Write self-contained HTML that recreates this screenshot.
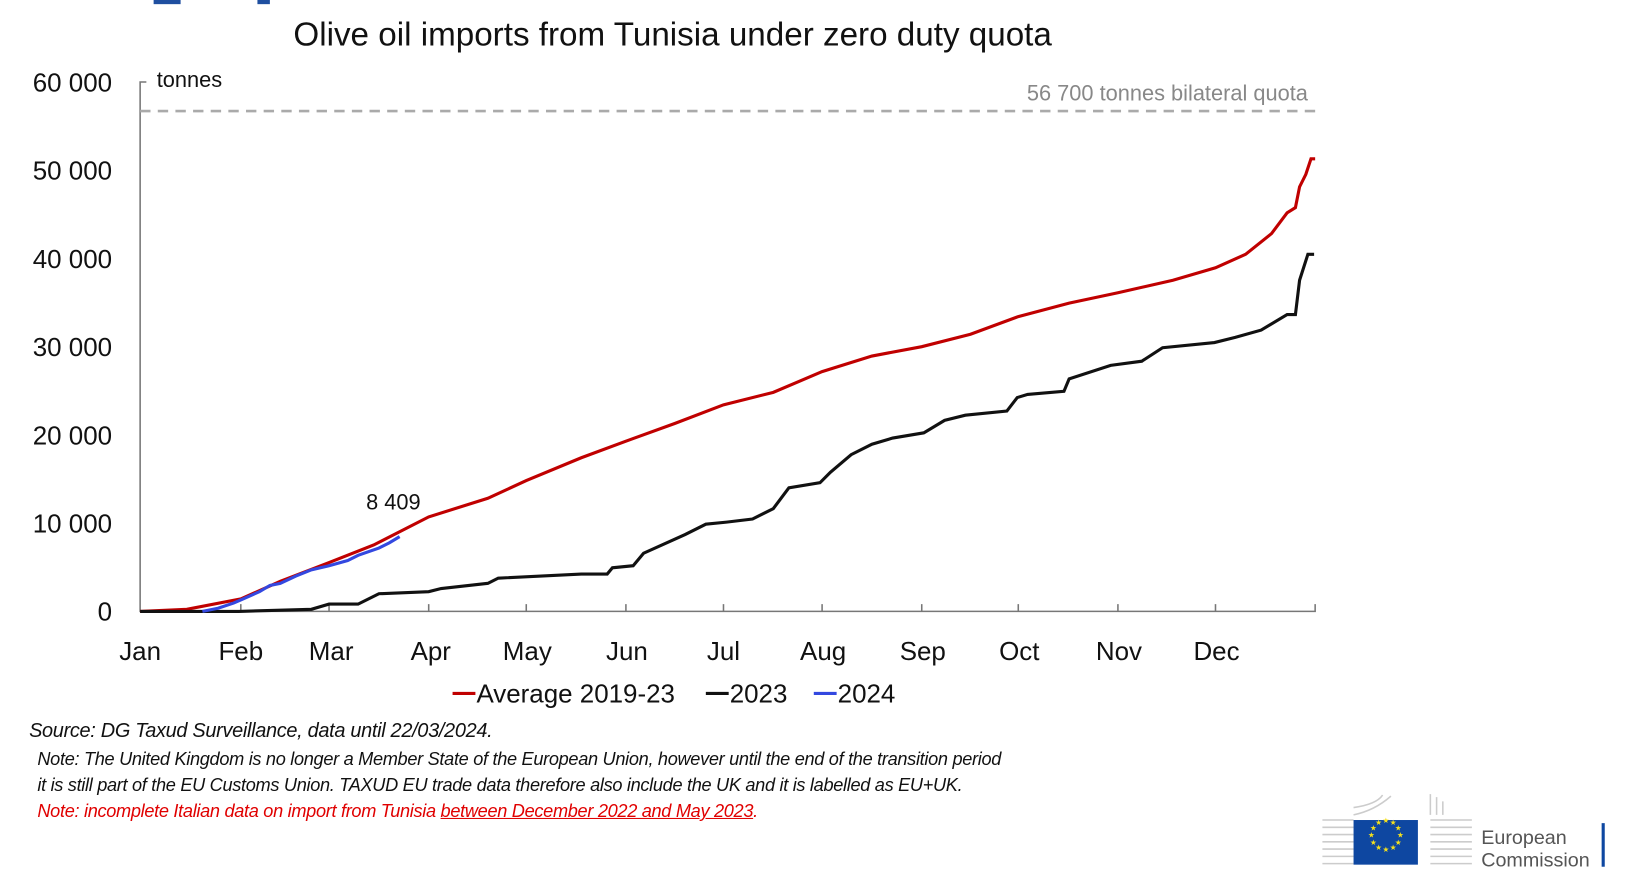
<!DOCTYPE html>
<html><head><meta charset="utf-8"><style>
body{margin:0;background:#fff;width:1628px;height:884px;overflow:hidden;font-family:"Liberation Sans",sans-serif}
#w{position:absolute;left:0;top:0;width:1570px;height:852px;transform:scale(1.038);transform-origin:0 0}
.n{position:absolute;font-style:italic;font-size:17.5px;white-space:nowrap;letter-spacing:-0.3px}
</style></head><body><div id="w">
<svg width="1570" height="852" style="position:absolute;left:0;top:0" font-family="Liberation Sans, sans-serif">
<rect x="148" y="0" width="26" height="4" fill="#1f4fa0"/><rect x="248" y="0" width="12" height="4" fill="#1f4fa0"/>
<text x="648" y="44" font-size="32" text-anchor="middle" fill="#111">Olive oil imports from Tunisia under zero duty quota</text>
<g font-size="25" fill="#111" text-anchor="end">
<text x="108" y="88">60 000</text><text x="108" y="173">50 000</text><text x="108" y="258">40 000</text>
<text x="108" y="343">30 000</text><text x="108" y="428">20 000</text><text x="108" y="513">10 000</text><text x="108" y="598">0</text>
</g>
<text x="151" y="84" font-size="21" fill="#111">tonnes</text>
<path d="M141 79H135V589H1267V582" stroke="#777" stroke-width="1.5" fill="none"/>
<g stroke="#777" stroke-width="1.5">
<path d="M232 589v-7M317 589v-7M413 589v-7M507 589v-7M603 589v-7M697 589v-7M792 589v-7M888 589v-7M981 589v-7M1077 589v-7M1171 589v-7"/>
</g>
<line x1="135" y1="107" x2="1267" y2="107" stroke="#aaa" stroke-width="2.5" stroke-dasharray="10,7"/>
<text x="1260" y="97" font-size="21" fill="#888" text-anchor="end">56 700 tonnes bilateral quota</text>
<g font-size="25" fill="#111" text-anchor="middle">
<text x="135" y="636">Jan</text><text x="232" y="636">Feb</text><text x="319" y="636">Mar</text><text x="415" y="636">Apr</text>
<text x="508" y="636">May</text><text x="604" y="636">Jun</text><text x="697" y="636">Jul</text><text x="793" y="636">Aug</text>
<text x="889" y="636">Sep</text><text x="982" y="636">Oct</text><text x="1078" y="636">Nov</text><text x="1172" y="636">Dec</text>
</g>
<polyline fill="none" stroke="#c00000" stroke-width="3" points="135,589 180,587 232,577 270,560 317,542 360,525 413,498 470,480 507,463 560,441 603,425 650,408 697,390 745,378 792,358 840,343 888,334 935,322 981,305 1030,292 1077,282 1130,270 1171,258 1200,245 1225,225 1240,205 1248,200 1252,180 1258,168 1263,153 1267,153"/>
<polyline fill="none" stroke="#111" stroke-width="3" points="135,589 230,589 300,587 317,582 345,582 365,572 413,570 425,567 470,562 480,557 560,553 585,553 590,547 610,545 620,533 660,515 680,505 700,503 725,500 745,490 760,470 790,465 800,455 820,438 840,428 860,422 890,417 910,405 930,400 970,396 980,383 990,380 1025,377 1030,365 1070,352 1100,348 1120,335 1170,330 1190,325 1215,318 1240,303 1248,303 1252,270 1260,245 1266,245"/>
<polyline fill="none" stroke="#3348e0" stroke-width="3" points="195,589 210,586 225,581 232,578 250,570 260,564 270,562 285,555 300,549 317,545 335,540 345,535 365,528 375,523 385,517"/>
<text x="379" y="491" font-size="21" fill="#111" text-anchor="middle">8 409</text>
<g font-size="25" fill="#111">
<line x1="436" y1="668" x2="458" y2="668" stroke="#c00000" stroke-width="3"/><text x="459" y="677">Average 2019-23</text>
<line x1="680" y1="668" x2="702" y2="668" stroke="#111" stroke-width="3"/><text x="703" y="677">2023</text>
<line x1="784" y1="668" x2="806" y2="668" stroke="#3348e0" stroke-width="3"/><text x="807" y="677">2024</text>
</g>
<g fill="none" stroke="#ccc" stroke-width="1.5">
<path d="M1274 790h30M1274 797h30M1274 804h30M1274 811h30M1274 818h30M1274 825h30M1274 832h30"/>
<path d="M1304 785q20 -4 36 -18M1304 778q22 -3 28 -12M1378 790h40M1378 797h40M1378 804h40M1378 811h40M1378 818h40M1378 825h40M1378 832h40"/>
<path d="M1378 765v20M1384 768v17M1390 772v13"/>
</g>
<rect x="1304" y="790" width="62" height="43" fill="#0e47a1"/>
<g fill="#f6e11b" font-size="7" text-anchor="middle">
<text x="1335" y="793">★</text><text x="1342" y="795">★</text><text x="1347" y="800">★</text><text x="1349" y="807">★</text><text x="1347" y="814">★</text><text x="1342" y="819">★</text><text x="1335" y="821">★</text><text x="1328" y="819">★</text><text x="1323" y="814">★</text><text x="1321" y="807">★</text><text x="1323" y="800">★</text><text x="1328" y="795">★</text>
</g>
<text x="1427" y="813" font-size="19" fill="#555">European</text>
<text x="1427" y="835" font-size="19" fill="#555">Commission</text>
<rect x="1543" y="793" width="3" height="42" fill="#0e47a1"/>
</svg>
<div class="n" style="left:28px;top:694px;color:#111;font-size:19.2px">Source: DG Taxud Surveillance, data until 22/03/2024.</div>
<div class="n" style="left:36px;top:721px;color:#111">Note: The United Kingdom is no longer a Member State of the European Union, however until the end of the transition period</div>
<div class="n" style="left:36px;top:746px;color:#111">it is still part of the EU Customs Union. TAXUD EU trade data therefore also include the UK and it is labelled as EU+UK.</div>
<div class="n" style="left:36px;top:771px;color:#e00000">Note: incomplete Italian data on import from Tunisia <u>between December 2022 and May 2023</u>.</div>
</div></body></html>
